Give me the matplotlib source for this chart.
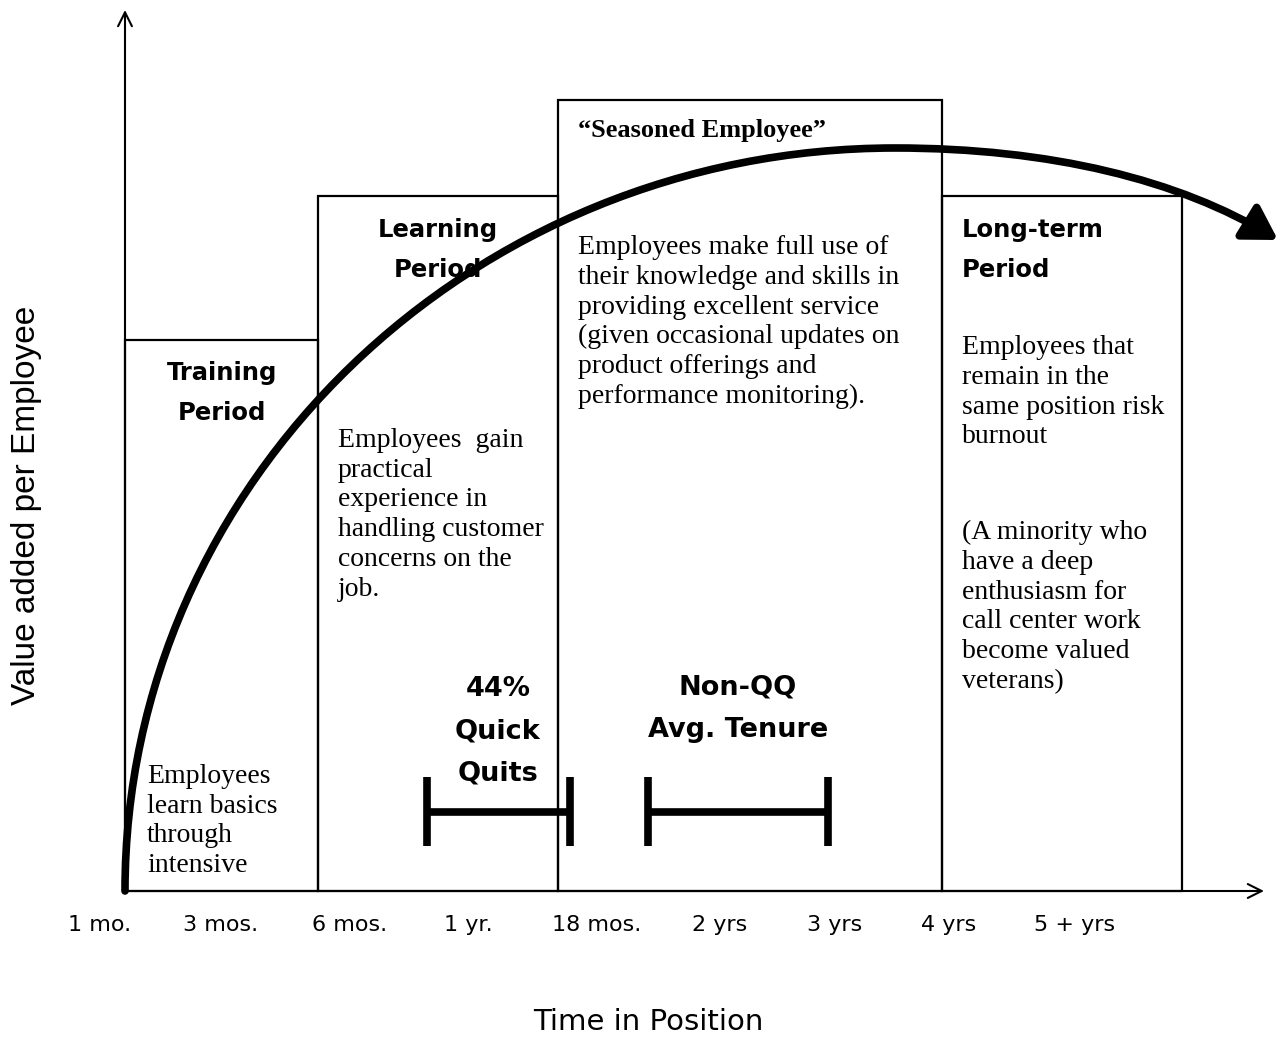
import matplotlib.pyplot as plt
from matplotlib.patches import Rectangle, FancyArrowPatch, ArrowStyle
from matplotlib.path import Path

# stage boxes: edges along the time axis and relative value height
stage_edges = [125, 318, 558, 942, 1182]
stage_heights = [551, 695, 791, 695]

tick_labels = ["1 mo.", "3 mos.", "6 mos.", "1 yr.", "18 mos.", "2 yrs", "3 yrs", "4 yrs", "5 + yrs"]
tick_pos = [100, 221, 350, 468, 597, 720, 835, 949, 1075]

# value curve (bezier control points) - rises fast, peaks, then declines
curve_pts = [(125, 0), (125, 409), (471, 743), (895, 743),
             (1050, 743), (1180, 711), (1278, 651)]

# tenure ranges drawn as I-beams
quick_quits = (427, 570)
non_qq = (648, 828)
beam_y = 79

head_font = "DejaVu Sans"
serif = "Liberation Serif"

fig = plt.figure(figsize=(12.79, 10.38), dpi=100)
ax = fig.add_axes([0, 0, 1, 1])
ax.set_xlim(0, 1279)
ax.set_ylim(-147, 891)
ax.axis("off")

# axes with open arrowheads
ax.annotate("", xy=(125, 881), xytext=(125, 0),
            arrowprops=dict(arrowstyle="->", lw=1.5, mutation_scale=25, shrinkA=0, shrinkB=0))
ax.annotate("", xy=(1264, 0), xytext=(125, 0),
            arrowprops=dict(arrowstyle="->", lw=1.5, mutation_scale=25, shrinkA=0, shrinkB=0))

for i in range(len(stage_heights)):
    x0 = stage_edges[i]
    w = stage_edges[i + 1] - x0
    ax.add_patch(Rectangle((x0, 0), w, stage_heights[i], fill=False, lw=1.6, ec="black", zorder=2))

# curve with filled head
codes = [Path.MOVETO] + [Path.CURVE4] * 6
arc = FancyArrowPatch(path=Path(curve_pts, codes),
                      arrowstyle=ArrowStyle("-|>", head_length=1.0, head_width=0.6),
                      mutation_scale=20, lw=5.5, color="black", zorder=5)
ax.add_patch(arc)

# I-beams
for a, b in [quick_quits, non_qq]:
    ax.plot([a, b], [beam_y, beam_y], color="black", lw=5.5, solid_capstyle="butt", zorder=4)
    for xx in (a, b):
        ax.plot([xx, xx], [beam_y - 34, beam_y + 35], color="black", lw=5.5, solid_capstyle="butt", zorder=4)

# headings
hk = dict(fontsize=17.5, family=head_font, fontweight="bold", linespacing=1.83, zorder=3)
ax.text(222, 891 - 393, "Training\nPeriod", ha="center", va="center", **hk)
ax.text(438, 891 - 250, "Learning\nPeriod", ha="center", va="center", **hk)
ax.text(962, 891 - 250, "Long-term\nPeriod", ha="left", va="center", **hk)
ax.text(498, 891 - 731, "44%\nQuick\nQuits", ha="center", va="center",
        fontsize=19.5, family=head_font, fontweight="bold", linespacing=1.8)
ax.text(738, 891 - 709, "Non-QQ\nAvg. Tenure", ha="center", va="center",
        fontsize=19.5, family=head_font, fontweight="bold", linespacing=1.8)
ax.text(578, 891 - 130, "\u201cSeasoned Employee\u201d", ha="left", va="center",
        fontsize=19, family=serif, fontweight="bold")

bk = dict(fontsize=20, family=serif, linespacing=1.25, ha="left", va="top", zorder=3)
ax.text(147, 891 - 764, "Employees\nlearn basics\nthrough\nintensive", **bk)
ax.text(338, 891 - 428, "Employees  gain\npractical\nexperience in\nhandling customer\nconcerns on the\njob.", **bk)
ax.text(578, 891 - 235, "Employees make full use of\ntheir knowledge and skills in\nproviding excellent service\n"
        "(given occasional updates on\nproduct offerings and\nperformance monitoring).", **bk)
ax.text(962, 891 - 335, "Employees that\nremain in the\nsame position risk\nburnout", **bk)
ax.text(962, 891 - 520, "(A minority who\nhave a deep\nenthusiasm for\ncall center work\nbecome valued\nveterans)", **bk)

for lab, x in zip(tick_labels, tick_pos):
    ax.text(x, 891 - 925, lab, ha="center", va="center", fontsize=16, family=head_font)

ax.text(27, 891 - 505, "Value added per Employee", rotation=90, ha="center", va="center",
        fontsize=24, family="Liberation Sans")
ax.text(648, 891 - 1022, "Time in Position", ha="center", va="center", fontsize=21, family=head_font)

fig.savefig("out.png", dpi=100)
